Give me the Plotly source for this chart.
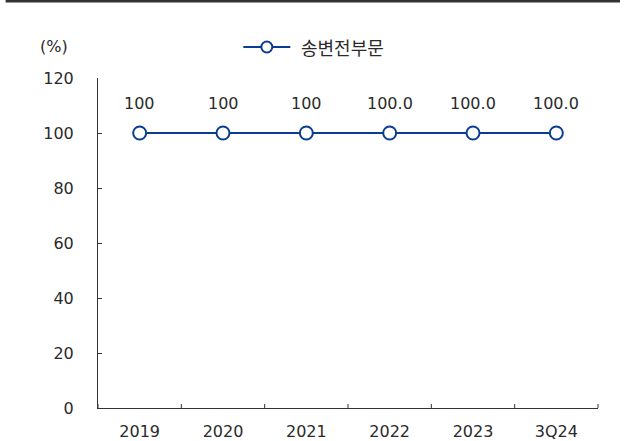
import plotly.graph_objects as go

# Data
periods = ["2019", "2020", "2021", "2022", "2023", "3Q24"]
share = [100, 100, 100, 100.0, 100.0, 100.0]
share_labels = ["100", "100", "100", "100.0", "100.0", "100.0"]
series_name = "송변전부문"
y_ticks = [0, 20, 40, 60, 80, 100, 120]

BLUE = "#0a3d91"
TEXT = "#2a2a2a"
NUM_FONT = "DejaVu Sans"
KR_FONT = "Noto Sans CJK KR"

# plot area in pixels
L, R, T, B = 97.5, 26, 78, 33
W, H = 624, 441
PW, PH = W - L - R, H - T - B


def px_x(p):
    return (p - L) / PW


def px_y(p):
    return (H - B - p) / PH


fig = go.Figure()
fig.add_trace(go.Scatter(
    x=periods,
    y=share,
    mode="lines+markers",
    name=series_name,
    showlegend=False,
    line=dict(color=BLUE, width=2),
    marker=dict(symbol="circle", size=13, color="white",
                line=dict(color=BLUE, width=2)),
    cliponaxis=False,
))

# value labels above each point (category axis positions by index)
annotations = [
    dict(x=i, y=v, xref="x", yref="y", text=t, showarrow=False,
         yshift=30, font=dict(size=16, color=TEXT, family=NUM_FONT))
    for i, (v, t) in enumerate(zip(share, share_labels))
]

# unit label
annotations.append(dict(text="(%)", x=px_x(53), y=px_y(47), xref="paper", yref="paper",
                        showarrow=False, font=dict(size=16, color=TEXT, family=NUM_FONT),
                        xanchor="center", yanchor="middle"))

# legend text
annotations.append(dict(text=series_name, x=px_x(299), y=px_y(47), xref="paper", yref="paper",
                        showarrow=False, font=dict(size=18, color=TEXT, family=KR_FONT),
                        xanchor="left", yanchor="middle"))

shapes = []
# legend symbol: line with open circle
shapes.append(dict(type="line", xref="paper", yref="paper",
                   x0=px_x(243), x1=px_x(290), y0=px_y(47), y1=px_y(47),
                   line=dict(color=BLUE, width=2)))
shapes.append(dict(type="circle", xref="paper", yref="paper",
                   xsizemode="pixel", ysizemode="pixel",
                   xanchor=px_x(266.5), yanchor=px_y(47),
                   x0=-5.5, x1=5.5, y0=-5.5, y1=5.5,
                   fillcolor="white", line=dict(color=BLUE, width=2)))

# category boundary ticks along the x axis
for i in range(len(periods) + 1):
    xb = i / len(periods)
    shapes.append(dict(type="line", xref="paper", yref="paper",
                       x0=xb, x1=xb, y0=0, y1=4 / PH,
                       line=dict(color="#333333", width=1)))

# dark rule across the top of the page
shapes.append(dict(type="rect", xref="paper", yref="paper",
                   x0=px_x(5), x1=px_x(620), y0=px_y(2.5), y1=px_y(0),
                   fillcolor="#333333", line=dict(width=0)))

fig.update_layout(
    width=W,
    height=H,
    margin=dict(l=L, r=R, t=T, b=B, autoexpand=False),
    paper_bgcolor="white",
    plot_bgcolor="white",
    font=dict(family=NUM_FONT, size=16, color=TEXT),
    showlegend=False,
    xaxis=dict(
        type="category",
        automargin=False,
        showline=True, linecolor="#333333", linewidth=1,
        showgrid=False, zeroline=False,
        ticks="", tickfont=dict(size=16, color=TEXT, family=NUM_FONT),
        ticklabelstandoff=9,
        range=[-0.5, 5.5],
    ),
    yaxis=dict(
        range=[0, 120],
        automargin=False,
        tickvals=y_ticks,
        showline=True, linecolor="#333333", linewidth=1,
        showgrid=False, zeroline=False,
        ticks="inside", ticklen=4, tickcolor="#333333",
        tickfont=dict(size=16, color=TEXT, family=NUM_FONT),
        ticklabelstandoff=20,
    ),
    annotations=annotations,
    shapes=shapes,
)

fig.write_html("out.html")
